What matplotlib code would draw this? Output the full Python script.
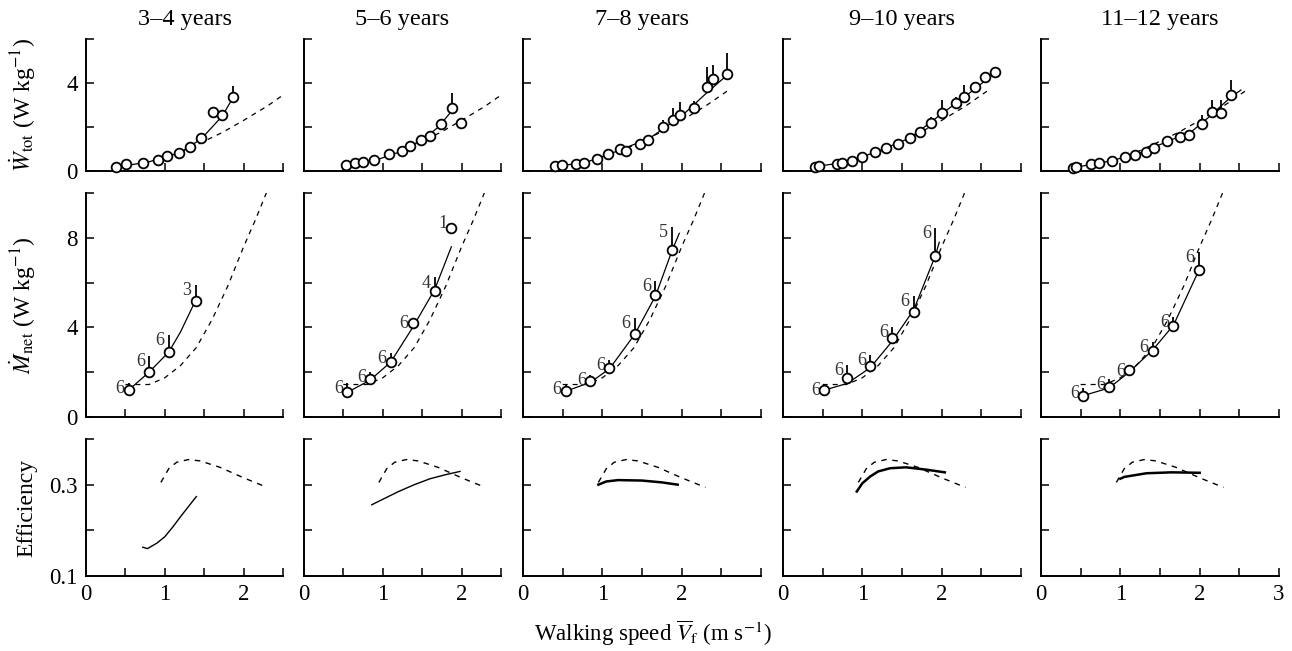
import matplotlib.pyplot as plt

plt.rcParams['font.family'] = ['Liberation Serif', 'DejaVu Serif']
plt.rcParams['mathtext.fontset'] = 'stix'

ages = ['3–4 years', '5–6 years', '7–8 years', '9–10 years', '11–12 years']

# --- top row: total mechanical work rate (W/kg) ---
w_speed = [
    [0.38, 0.51, 0.72, 0.91, 1.03, 1.18, 1.32, 1.46, 1.61, 1.73, 1.86],
    [0.53, 0.65, 0.75, 0.89, 1.08, 1.24, 1.34, 1.48, 1.60, 1.74, 1.88, 1.99],
    [0.40, 0.49, 0.67, 0.77, 0.93, 1.07, 1.22, 1.30, 1.48, 1.58, 1.76, 1.89, 1.98, 2.15, 2.32, 2.40, 2.57],
    [0.40, 0.45, 0.68, 0.74, 0.87, 1.00, 1.16, 1.30, 1.45, 1.60, 1.73, 1.86, 2.00, 2.18, 2.28, 2.42, 2.55, 2.67],
    [0.40, 0.44, 0.63, 0.73, 0.90, 1.06, 1.19, 1.32, 1.43, 1.59, 1.75, 1.86, 2.03, 2.15, 2.27, 2.39],
]
w_val = [
    [0.18, 0.32, 0.36, 0.50, 0.68, 0.82, 1.10, 1.50, 2.68, 2.54, 3.36],
    [0.27, 0.35, 0.39, 0.50, 0.77, 0.92, 1.14, 1.41, 1.59, 2.14, 2.85, 2.20],
    [0.23, 0.27, 0.32, 0.35, 0.55, 0.77, 0.98, 0.92, 1.23, 1.41, 1.98, 2.32, 2.55, 2.85, 3.80, 4.17, 4.41],
    [0.20, 0.24, 0.30, 0.35, 0.45, 0.62, 0.88, 1.03, 1.21, 1.52, 1.79, 2.17, 2.65, 3.10, 3.35, 3.83, 4.26, 4.48],
    [0.12, 0.20, 0.30, 0.35, 0.45, 0.62, 0.73, 0.88, 1.03, 1.38, 1.56, 1.64, 2.14, 2.67, 2.62, 3.45],
]
# error bars (upper half only): speed, value, top
w_bar_x = [[1.73, 1.86], [1.74, 1.88], [1.76, 1.89, 1.98, 2.15, 2.32, 2.40, 2.57],
           [1.86, 2.00, 2.18, 2.28], [2.03, 2.15, 2.27, 2.39]]
w_bar_y = [[2.54, 3.36], [2.14, 2.85], [1.98, 2.32, 2.55, 2.85, 3.80, 4.17, 4.41],
           [2.17, 2.65, 3.10, 3.35], [2.14, 2.67, 2.62, 3.45]]
w_bar_top = [[2.78, 3.86], [2.30, 3.53], [2.32, 2.85, 3.14, 3.20, 4.74, 4.82, 5.36],
             [2.47, 3.23, 3.38, 3.90], [2.55, 3.23, 3.23, 4.14]]
w_fit_x = [
    [0.38, 0.6, 0.8, 1.0, 1.2, 1.46, 1.73, 1.86],
    [0.53, 0.9, 1.2, 1.5, 1.7, 1.88],
    [0.40, 0.8, 1.2, 1.6, 2.0, 2.3, 2.57],
    [0.40, 0.8, 1.2, 1.6, 2.0, 2.3, 2.67],
    [0.40, 0.8, 1.2, 1.6, 1.9, 2.1, 2.39, 2.52],
]
w_fit_y = [
    [0.15, 0.30, 0.42, 0.62, 0.85, 1.45, 2.50, 3.30],
    [0.25, 0.48, 0.85, 1.42, 1.98, 2.75],
    [0.20, 0.40, 0.92, 1.50, 2.50, 3.50, 4.35],
    [0.20, 0.40, 0.90, 1.50, 2.60, 3.40, 4.45],
    [0.15, 0.40, 0.75, 1.35, 1.80, 2.40, 3.35, 3.68],
]
w_ref_x = [1.2, 1.44, 1.73, 2.0, 2.3, 2.6]
w_ref_y = [0.85, 1.25, 1.75, 2.3, 2.95, 3.7]

# --- middle row: net metabolic power (W/kg) ---
m_speed = [
    [0.54, 0.80, 1.05, 1.39],
    [0.55, 0.84, 1.10, 1.38, 1.66, 1.87],
    [0.54, 0.85, 1.09, 1.41, 1.67, 1.88],
    [0.52, 0.81, 1.10, 1.38, 1.65, 1.92],
    [0.53, 0.86, 1.11, 1.41, 1.67, 1.99],
]
m_val = [
    [1.20, 2.02, 2.92, 5.18],
    [1.13, 1.70, 2.47, 4.18, 5.64, 8.45],
    [1.16, 1.62, 2.17, 3.70, 5.43, 7.44],
    [1.20, 1.73, 2.28, 3.54, 4.67, 7.20],
    [0.95, 1.32, 2.08, 2.96, 4.06, 6.55],
]
m_top = [
    [1.50, 2.74, 3.66, 5.89],
    [1.50, 2.02, 2.84, 4.40, 6.23, 8.90],
    [1.46, 1.88, 2.54, 4.40, 6.08, 8.50],
    [1.43, 2.32, 2.77, 4.03, 5.40, 8.42],
    [1.28, 1.68, 2.30, 3.36, 4.48, 7.38],
]
m_n = [
    [6, 6, 6, 3],
    [6, 6, 6, 6, 4, 1],
    [6, 6, 6, 6, 6, 5],
    [6, 6, 6, 6, 6, 6],
    [6, 6, 6, 6, 6, 6],
]
m_fit_x = [
    [0.54, 0.80, 1.05, 1.20, 1.39],
    [0.55, 0.84, 1.10, 1.38, 1.66, 1.87],
    [0.54, 0.85, 1.09, 1.41, 1.67, 1.88, 1.97],
    [0.52, 0.81, 1.10, 1.38, 1.65, 1.92, 1.97],
    [0.53, 0.86, 1.11, 1.41, 1.67, 1.99],
]
m_fit_y = [
    [1.20, 2.00, 2.90, 3.80, 5.20],
    [1.10, 1.65, 2.45, 4.00, 5.70, 7.60],
    [1.15, 1.55, 2.15, 3.70, 5.40, 7.44, 8.20],
    [1.20, 1.50, 2.20, 3.40, 4.80, 7.20, 7.80],
    [0.95, 1.30, 2.00, 3.00, 4.10, 6.55],
]
m_ref_x = [0.5, 0.8, 1.0, 1.2, 1.4, 1.6, 1.8, 2.0, 2.15, 2.3]
m_ref_y = [1.45, 1.45, 1.75, 2.3, 3.1, 4.35, 5.85, 7.6, 8.8, 10.1]

# --- bottom row: efficiency ---
e_fit_x = [
    [0.72, 0.78, 0.9, 1.0, 1.1, 1.2, 1.3, 1.4],
    [0.86, 1.0, 1.2, 1.4, 1.6, 1.8, 1.98],
    [0.95, 1.05, 1.2, 1.5, 1.75, 1.95],
    [0.93, 1.0, 1.1, 1.2, 1.35, 1.55, 1.8, 2.04],
    [1.0, 1.05, 1.33, 1.65, 2.0],
]
e_fit_y = [
    [0.163, 0.160, 0.172, 0.186, 0.207, 0.230, 0.252, 0.274],
    [0.256, 0.268, 0.285, 0.300, 0.313, 0.322, 0.329],
    [0.300, 0.307, 0.310, 0.309, 0.305, 0.300],
    [0.285, 0.303, 0.318, 0.329, 0.336, 0.338, 0.333, 0.327],
    [0.313, 0.317, 0.325, 0.327, 0.326],
]
e_ref_x = [0.95, 1.05, 1.15, 1.3, 1.45, 1.7, 2.0, 2.3]
e_ref_y = [0.305, 0.335, 0.349, 0.355, 0.352, 0.338, 0.315, 0.294]

# --- layout (pixels of the 1292x651 canvas) ---
W, H = 1292, 651
col_left = [86, 304, 523, 783, 1041]
col_width = [197, 197, 238, 238, 238]
row_top = [39, 193, 439]
row_bot = [171, 417, 576]

fig = plt.figure(figsize=(12.92, 6.51), dpi=100)
dash = (0, (4, 4))


def make_ax(r, c):
    ax = fig.add_axes([col_left[c] / W, 1 - row_bot[r] / H,
                       col_width[c] / W, (row_bot[r] - row_top[r]) / H])
    xmax = 2.5 if c < 2 else 3.0
    ax.set_xlim(0, xmax)
    for s in ['top', 'right']:
        ax.spines[s].set_visible(False)
    for s in ['left', 'bottom']:
        ax.spines[s].set_linewidth(1.4)
    ax.tick_params(direction='in', length=6, width=1.1, labelsize=16.5, pad=6)
    xt = [0, 0.5, 1, 1.5, 2, 2.5, 3][:6 if c < 2 else 7]
    ax.set_xticks(xt)
    if r == 2:
        labs = ['0', '', '1', '', '2', '', '3'][:len(xt)]
        if c in (2, 3):
            labs[-1] = ''
        ax.set_xticklabels(labs)
    else:
        ax.set_xticklabels([])
    return ax


for c in range(5):
    # top row
    ax = make_ax(0, c)
    ax.set_ylim(0, 6)
    ax.set_yticks([0, 2, 4, 6])
    ax.set_yticklabels(['0', '', '4', ''] if c == 0 else [])
    ax.set_title(ages[c], fontsize=17.5, pad=10)
    ax.plot(w_ref_x, w_ref_y, color='k', lw=0.9, ls=dash, zorder=1)
    ax.plot(w_fit_x[c], w_fit_y[c], color='k', lw=0.9, zorder=2)
    ax.vlines(w_bar_x[c], w_bar_y[c], w_bar_top[c], color='k', lw=1.3, zorder=2)
    ax.plot(w_speed[c], w_val[c], 'o', ms=7, mfc='white', mec='k', mew=1.3,
            zorder=3, clip_on=False)
    if c == 0:
        ax.set_ylabel(r'$\dot{W}_{\rm tot}$ (W kg$^{-1}$)', fontsize=17)
        ax.yaxis.set_label_coords(-0.245, 0.5)

    # middle row
    ax = make_ax(1, c)
    ax.set_ylim(0, 10)
    ax.set_yticks([0, 2, 4, 6, 8, 10])
    ax.set_yticklabels(['0', '', '4', '', '8', ''] if c == 0 else [])
    ax.plot(m_ref_x, m_ref_y, color='k', lw=0.9, ls=dash, zorder=1)
    ax.plot(m_fit_x[c], m_fit_y[c], color='k', lw=0.9, zorder=2)
    for x, y, t, n in zip(m_speed[c], m_val[c], m_top[c], m_n[c]):
        if n > 1:
            ax.vlines(x, y, t, color='k', lw=1.3, zorder=2)
        ax.annotate(str(n), (x, t), xytext=(-3, -4), textcoords='offset points',
                    ha='right', va='center', fontsize=13, color='#333333')
    ax.plot(m_speed[c], m_val[c], 'o', ms=7, mfc='white', mec='k', mew=1.3, zorder=3)
    if c == 0:
        ax.set_ylabel(r'$\dot{M}_{\rm net}$ (W kg$^{-1}$)', fontsize=17)
        ax.yaxis.set_label_coords(-0.245, 0.5)

    # bottom row
    ax = make_ax(2, c)
    ax.set_ylim(0.1, 0.4)
    ax.set_yticks([0.1, 0.2, 0.3, 0.4])
    ax.set_yticklabels(['0.1', '', '0.3', ''] if c == 0 else [])
    ax.plot(e_ref_x, e_ref_y, color='k', lw=1.0, ls=dash, zorder=1)
    ax.plot(e_fit_x[c], e_fit_y[c], color='k', lw=1.0 if c < 2 else 1.8, zorder=2)
    if c == 0:
        ax.set_ylabel('Efficiency', fontsize=17)
        ax.yaxis.set_label_coords(-0.245, 0.5)

fig.text(0.505, 0.028, r'Walking speed $\overline{V}_{\rm f}$ (m s$^{-1}$)',
         ha='center', va='center', fontsize=16.5)

fig.savefig('out.png', dpi=100)
